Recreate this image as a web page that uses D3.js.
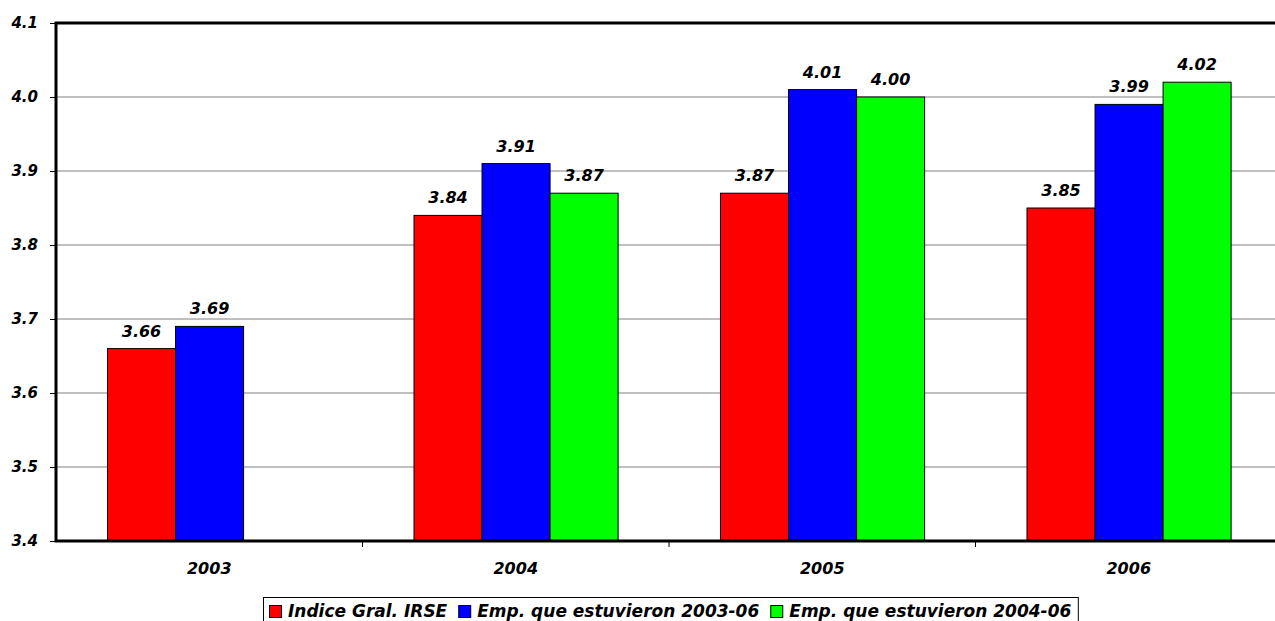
<!DOCTYPE html>
<html><head><meta charset="utf-8">
<script src="https://cdn.jsdelivr.net/npm/d3@7"></script>
<style>body{margin:0;background:#fff;} svg{display:block;font-family:"DejaVu Sans",sans-serif;}</style>
</head><body>
<svg id="c" width="1275" height="621"></svg>
<script>
const categories = ["2003","2004","2005","2006"];
const seriesNames = ["Indice Gral. IRSE","Emp. que estuvieron 2003-06","Emp. que estuvieron 2004-06"];
const seriesColors = ["#ff0000","#0000ff","#00ff00"];
const indiceGral = [3.66, 3.84, 3.87, 3.85];
const emp2003 = [3.69, 3.91, 4.01, 3.99];
const emp2004 = [null, 3.87, 4.00, 4.02];
const yTicks = [3.4,3.5,3.6,3.7,3.8,3.9,4.0,4.1];
const seriesValues = [indiceGral, emp2003, emp2004];

const FONT = "'DejaVu Sans',sans-serif";
const svg = d3.select("#c");
const L = 56, T = 23, R = 1282, B = 541;
const y = d3.scaleLinear().domain([3.4, 4.1]).range([B, T]);
const x = d3.scaleBand().domain(categories).range([L, R]).padding(0);
const step = x.bandwidth();
const xs = d3.scaleBand().domain(d3.range(3)).range([step*0.168, step*0.834]).padding(0);

// gridlines
svg.append("g").selectAll("line").data(yTicks.slice(1, -1)).join("line")
  .attr("x1", L).attr("x2", R).attr("y1", d => y(d)).attr("y2", d => y(d))
  .attr("stroke", "#808080").attr("stroke-width", 1);

// bars
const groups = svg.append("g").selectAll("g").data(categories).join("g")
  .attr("transform", d => `translate(${x(d)},0)`);
seriesValues.forEach((vals, si) => {
  groups.each(function(c, ci) {
    const v = vals[ci];
    if (v == null) return;
    const g = d3.select(this);
    g.append("rect").attr("x", xs(si)).attr("width", xs.bandwidth())
      .attr("y", y(v)).attr("height", y(3.4) - y(v))
      .attr("fill", seriesColors[si]).attr("stroke", "#000").attr("stroke-width", 1);
    g.append("text").attr("x", xs(si) + xs.bandwidth()/2).attr("y", y(v) - 12)
      .attr("text-anchor", "middle").attr("font-size", 16).attr("font-weight", "bold")
      .attr("font-style", "italic").text(v.toFixed(2));
  });
});

// y axis
const yAxis = svg.append("g").attr("transform", `translate(${L},0)`)
  .call(d3.axisLeft(y).tickValues(yTicks).tickFormat(d3.format(".1f")).tickSize(6).tickPadding(12));
yAxis.attr("font-family", FONT).attr("font-size", 15);
yAxis.select(".domain").remove();
yAxis.selectAll("line").attr("stroke", "#000");
yAxis.selectAll("text").attr("font-weight", "bold").attr("font-style", "italic").attr("fill", "#000");

// x axis
const xAxis = svg.append("g").attr("transform", `translate(0,${B})`)
  .call(d3.axisBottom(x).tickSize(0).tickPadding(22));
xAxis.attr("font-family", FONT).attr("font-size", 16);
xAxis.select(".domain").remove();
xAxis.selectAll("text").attr("font-weight", "bold").attr("font-style", "italic").attr("fill", "#000");
svg.append("g").selectAll("line").data(categories.slice(1)).join("line")
  .attr("x1", d => x(d)).attr("x2", d => x(d)).attr("y1", B).attr("y2", B + 6)
  .attr("stroke", "#000").attr("stroke-width", 1);

// frame
svg.append("path").attr("d", `M${R},${T}H${L}V${B}H${R}`)
  .attr("fill", "none").attr("stroke", "#000").attr("stroke-width", 3);

// legend
const lg = svg.append("g");
const box = lg.append("rect").attr("x", 263.5).attr("y", 597.5).attr("height", 30)
  .attr("fill", "#fff").attr("stroke", "#000").attr("stroke-width", 1);
let cx = 269;
let endX = cx;
seriesNames.forEach((n, i) => {
  lg.append("rect").attr("x", cx + 0.5).attr("y", 605.5).attr("width", 12).attr("height", 12)
    .attr("fill", seriesColors[i]).attr("stroke", "#000").attr("stroke-width", 1);
  const t = lg.append("text").attr("x", cx + 19).attr("y", 617).attr("font-size", 17)
    .attr("font-weight", "bold").attr("font-style", "italic").text(n);
  endX = cx + 19 + t.node().getComputedTextLength();
  cx = endX + 11;
});
box.attr("width", endX + 7 - 263.5);
</script>
</body></html>
